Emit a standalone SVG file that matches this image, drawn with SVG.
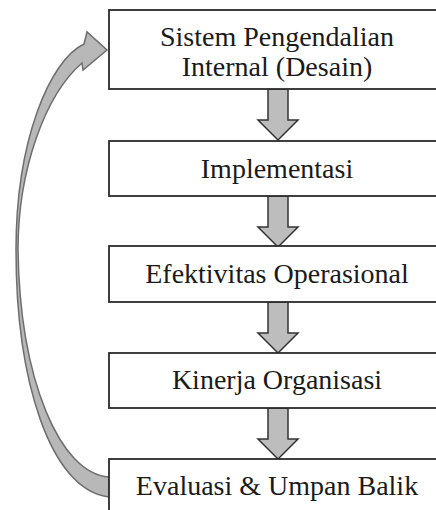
<svg xmlns="http://www.w3.org/2000/svg" width="436" height="510" viewBox="0 0 436 510">
<style>
.box{fill:#fff;stroke:#2b2b2b;stroke-width:1.8}
.t{font-family:"Liberation Serif","Times New Roman",serif;font-size:28px;fill:#1a1a1a;text-anchor:middle}
.down{fill:#bdbdbd;stroke:#333;stroke-width:1.5;stroke-linejoin:miter}
.loop{fill:#b8b8b8;stroke:#6e6e6e;stroke-width:1.5}
</style>
<rect width="436" height="510" fill="#fff"/>
<g id="connectors">
<path class="loop" d="M109,477 C60,474 20,380 18,250 C18,170 45,95 82,63 L83,70 L107,50 L87,32 L84,44 C50,60 16,140 16,250 C16,380 50,490 109,497 Z"/>
<path class="down" d="M268,89 L288,89 L288,120 L298,120 L278,140 L258,120 L268,120 Z"/>
<path class="down" d="M268,196 L288,196 L288,227 L298,227 L278,247 L258,227 L268,227 Z"/>
<path class="down" d="M268,302 L288,302 L288,333 L298,333 L278,353 L258,333 L268,333 Z"/>
<path class="down" d="M268,408 L288,408 L288,439 L298,439 L278,459 L258,439 L268,439 Z"/>
</g>
<g id="node1">
<rect class="box" x="109" y="10" width="340" height="79"/>
<text class="t" x="277" y="46">Sistem Pengendalian</text>
<text class="t" x="277" y="76">Internal (Desain)</text>
</g>
<g id="node2">
<rect class="box" x="109" y="141" width="340" height="55"/>
<text class="t" x="277" y="178">Implementasi</text>
</g>
<g id="node3">
<rect class="box" x="109" y="246" width="340" height="56"/>
<text class="t" x="277" y="283">Efektivitas Operasional</text>
</g>
<g id="node4">
<rect class="box" x="109" y="353" width="340" height="55"/>
<text class="t" x="277" y="389">Kinerja Organisasi</text>
</g>
<g id="node5">
<rect class="box" x="109" y="459" width="340" height="70"/>
<text class="t" x="277" y="495">Evaluasi &amp; Umpan Balik</text>
</g>
</svg>
